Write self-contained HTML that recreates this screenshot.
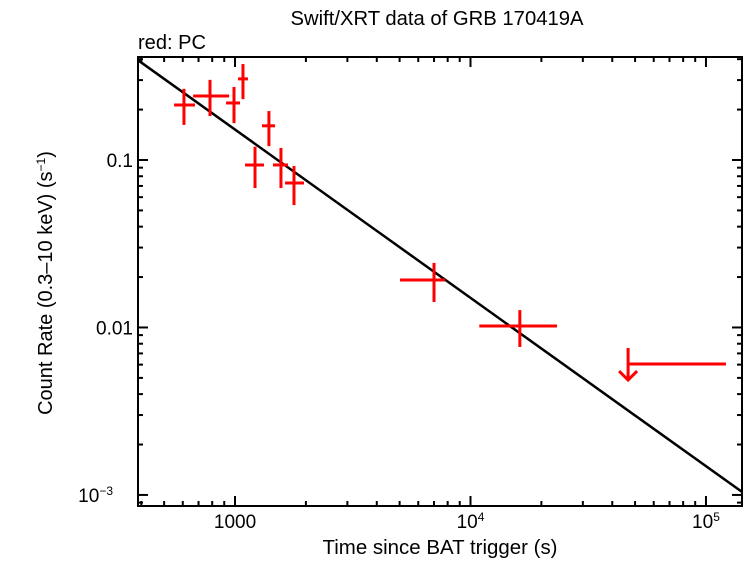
<!DOCTYPE html>
<html><head><meta charset="utf-8"><style>
body{margin:0;background:#fff;width:746px;height:558px;overflow:hidden;font-family:"Liberation Sans",sans-serif}
svg text{font-family:"Liberation Sans",sans-serif;fill:#000}
</style></head><body>
<svg id="chart" width="746" height="558" xmlns="http://www.w3.org/2000/svg">
<text x="437" y="25" font-size="20" text-anchor="middle" textLength="293" lengthAdjust="spacingAndGlyphs">Swift/XRT data of GRB 170419A</text>
<text x="138" y="49" font-size="20" textLength="68" lengthAdjust="spacingAndGlyphs">red: PC</text>
<text x="440" y="554" font-size="20.5" text-anchor="middle" textLength="235" lengthAdjust="spacingAndGlyphs">Time since BAT trigger (s)</text>
<text transform="translate(52,283) rotate(-90)" font-size="20" text-anchor="middle">Count Rate (0.3–10 keV) (s<tspan dy="-7" font-size="12">−1</tspan><tspan dy="7">)</tspan></text>
<g id="ticks"></g><g id="marks"></g>
<rect x="138" y="57" width="604" height="449" fill="none" stroke="#000" stroke-width="2"/>
</svg>
<script>
const times=[607,783,990,1081,1216,1393,1567,1780,7000,16200];
const timeLo=[551,664,916,1030,1103,1302,1449,1631,5020,10900];
const timeHi=[676,944,1050,1135,1328,1479,1679,1963,7800,23300];
const rates=[0.213,0.241,0.219,0.305,0.0934,0.160,0.0934,0.0729,0.0192,0.0102];
const rateLo=[0.162,0.183,0.166,0.231,0.068,0.121,0.068,0.0538,0.0142,0.00765];
const rateHi=[0.266,0.301,0.273,0.374,0.120,0.196,0.118,0.092,0.0243,0.0127];
const upperLimitTime=[46700,121600];
const upperLimitRate=[0.00605];
const modelNorm=[0.152];
const modelIndex=[-1.005];
const xTickLabels=["1000","10","10"];
const xTickExp=["","4","5"];
const yTickLabels=["0.1","0.01","10"];
const yTickExp=["","","−3"];

const L=138,R=742,T=57,B=506;
const X0=2.588,X1=5.153,Y0=-3.066,Y1=-0.385;
const sx=v=>L+(Math.log10(v)-X0)/(X1-X0)*(R-L);
const sy=v=>B-(Math.log10(v)-Y0)/(Y1-Y0)*(B-T);
const NS="http://www.w3.org/2000/svg";
const mk=(p,t,a)=>{const e=document.createElementNS(NS,t);for(const k in a)e.setAttribute(k,a[k]);p.appendChild(e);return e;};
const tg=document.getElementById('ticks'),mg=document.getElementById('marks');

for(let d=2;d<=5;d++)for(let m=1;m<10;m++){const v=m*Math.pow(10,d);const x=sx(v);if(x<L+1||x>R-1)continue;const len=m===1?10:5;
 let l=mk(tg,'line',{x1:x,x2:x,y1:B,y2:B-len,stroke:'#000','stroke-width':2});
 
 
 l=mk(tg,'line',{x1:x,x2:x,y1:T,y2:T+len,stroke:'#000','stroke-width':2});
 
 }
[3,4,5].forEach((d,i)=>{const t=mk(tg,'text',{x:sx(Math.pow(10,d)),y:B+22,'font-size':19,'text-anchor':'middle'});
 
 
 t.textContent=xTickLabels[i];if(xTickExp[i]){const s=mk(t,'tspan',{dy:-7,'font-size':12});s.textContent=xTickExp[i];}});
for(let d=-4;d<=0;d++)for(let m=1;m<10;m++){const v=m*Math.pow(10,d);const y=sy(v);if(y<T+1||y>B-1)continue;const len=m===1?10:5;
 let l=mk(tg,'line',{x1:L,x2:L+len,y1:y,y2:y,stroke:'#000','stroke-width':2});
 
 
 l=mk(tg,'line',{x1:R,x2:R-len,y1:y,y2:y,stroke:'#000','stroke-width':2});
 
 }
[-1,-2,-3].forEach((d,i)=>{const t=mk(tg,'text',{x:yTickExp[i]?L-25:L-5,y:sy(Math.pow(10,d))+7,'font-size':19,'text-anchor':'end'});
 
 
 t.textContent=yTickLabels[i];if(yTickExp[i]){const s=mk(t,'tspan',{dy:-7,'font-size':12});s.textContent=yTickExp[i];}});
{const a=Math.pow(10,X0),b=Math.pow(10,X1);const f=t=>modelNorm[0]*Math.pow(t/1000,modelIndex[0]);
 const l=mk(mg,'line',{x1:sx(a),y1:sy(f(a)),x2:sx(b),y2:sy(f(b)),stroke:'#000','stroke-width':2.5});
 
 }
times.forEach((t,i)=>{const g=mk(mg,'g',{stroke:'#f00','stroke-width':3});
 
 
 mk(g,'line',{x1:sx(timeLo[i]),x2:sx(timeHi[i]),y1:sy(rates[i]),y2:sy(rates[i])});
 mk(g,'line',{x1:sx(t),x2:sx(t),y1:sy(rateLo[i]),y2:sy(rateHi[i])});});
{const g=mk(mg,'g',{stroke:'#f00','stroke-width':3,fill:'none'});
 
 
 const x0=sx(upperLimitTime[0]),x1=sx(upperLimitTime[1]),y=sy(upperLimitRate[0]);
 mk(g,'line',{x1:x0,x2:x1,y1:y,y2:y});
 mk(g,'line',{x1:x0,x2:x0,y1:y-16,y2:y+16});
 mk(g,'polyline',{points:`${x0-9},${y+7} ${x0},${y+16} ${x0+9},${y+7}`});}
</script>
</body></html>
